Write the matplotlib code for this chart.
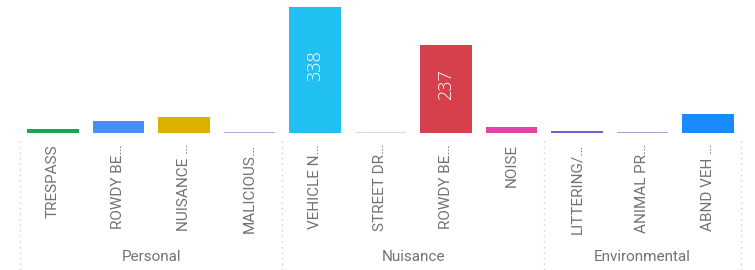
import matplotlib
matplotlib.use('Agg')

import matplotlib.pyplot as plt
import matplotlib.transforms as mtransforms

##########################################################################
## Data
##########################################################################

labels = ["TRESPASS", "ROWDY BE\u2026", "NUISANCE \u2026", "MALICIOUS\u2026",
          "VEHICLE N\u2026", "STREET DR\u2026", "ROWDY BE\u2026", "NOISE",
          "LITTERING/\u2026", "ANIMAL PR\u2026", "ABND VEH \u2026"]
counts = [11, 32, 43, 3, 338, 2, 237, 16, 5, 2, 51]
colors = ["#1aa64a", "#4a8ff5", "#d9b100", "#b9a3d6", "#21c0f2", "#d5dbe6",
          "#d6404c", "#e244a6", "#7a5bd4", "#aaa0cc", "#1a8bff"]
groups = ["Personal", "Nuisance", "Environmental"]
group_sizes = [4, 4, 3]
shown_values = {4: "338", 6: "237"}

##########################################################################
## Drawing
##########################################################################

W, H = 755, 270
fig = plt.figure(figsize=(W / 100, H / 100), dpi=100)
ax = fig.add_axes([20.25 / W, 137 / H, 720.5 / W, 128 / H])

x = list(range(len(counts)))
ax.bar(x, counts, width=0.78, color=colors)
ax.set_xlim(-0.5, len(counts) - 0.5)
ax.set_ylim(0, 343)

for i, txt in shown_values.items():
    ax.text(i, counts[i] / 2 + 12, txt, rotation=90, ha='center', va='center',
            color='white', fontsize=13, family='Open Sans', fontweight='light')

ax.set_xticks(x)
ax.set_xticklabels(labels, rotation=90, ha='center', va='top',
                   fontsize=11, color='#727272', family='Roboto')
ax.tick_params(axis='x', length=0, pad=8)
ax.set_yticks([])
for s in ax.spines.values():
    s.set_visible(False)

# group separators and names
trans = mtransforms.blended_transform_factory(ax.transData, fig.transFigure)
start = -0.5
bounds = [start]
for g, n in zip(groups, group_sizes):
    end = start + n
    ax.text((start + end) / 2, 13 / H, g, transform=trans, ha='center',
            va='center', fontsize=11, color='#727272', family='Roboto')
    bounds.append(end)
    start = end
for b in bounds:
    ax.plot([b, b], [0, 130 / H], transform=trans, color='#d0d0d0',
            linestyle=(0, (1, 3)), linewidth=1, clip_on=False)

fig.savefig('out.png', dpi=100)
